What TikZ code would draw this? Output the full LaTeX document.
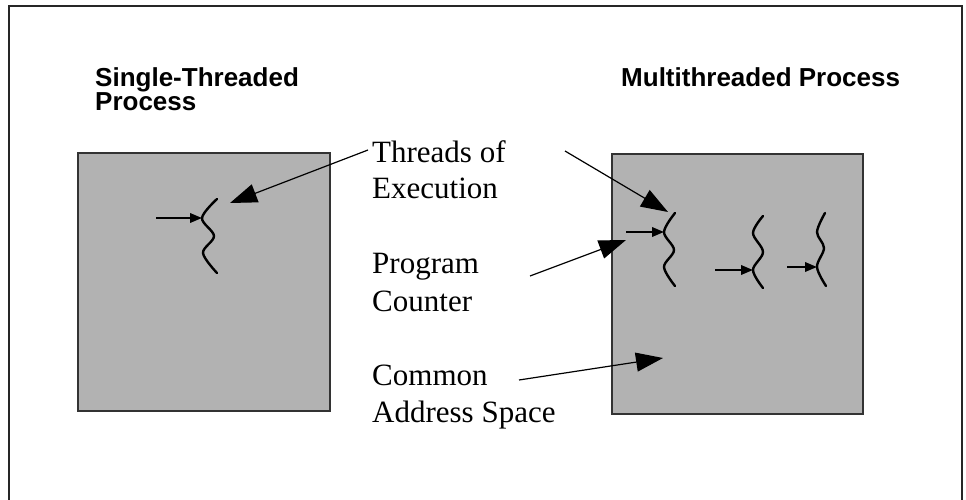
\documentclass[tikz,border=0pt]{standalone}
\usepackage{fontspec}
\setmainfont{Liberation Serif}
\setsansfont{Liberation Sans}
\usetikzlibrary{arrows.meta}
\begin{document}
\begin{tikzpicture}[x=1pt,y=-1pt,
  frame/.style={draw=black!85, line width=1.5pt},
  box/.style={draw=black!80, line width=1.5pt, fill=black!30, rectangle, inner sep=0pt, anchor=north west},
  lbl/.style={font=\fontsize{31}{37}\selectfont, anchor=base west, inner sep=0pt},
  ttl/.style={font=\sffamily\bfseries\fontsize{26}{24}\selectfont, anchor=base west, inner sep=0pt},
  pointer/.style={line width=1.2pt, -{Triangle[length=27pt,width=19pt]}},
  pcarrow/.style={line width=2pt, -{Triangle[length=12pt,width=9.5pt]}},
  thread/.style={line width=2.4pt, line cap=round, line join=round}]
\useasboundingbox (0,0) rectangle (966,500);
% outer frame (open at the bottom)
\draw[frame] (9,500) -- (9,6) -- (962,6) -- (962,500);
% titles
\node[ttl] (t1a) at (95,87) {Single-Threaded};
\node[ttl] (t1b) at (95,111) {Process};
\node[ttl] (t2) at (621,87) {Multithreaded Process};
% process boxes
\node[box, minimum width=252pt, minimum height=258pt] (sbox) at (77,152) {};
\node[box, minimum width=251pt, minimum height=260pt] (mbox) at (611,153) {};
% labels
\node[lbl] (thr1) at (372,162) {Threads of};
\node[lbl] (thr2) at (372,198) {Execution};
\node[lbl] (pc1) at (372,273) {Program};
\node[lbl] (pc2) at (372,311) {Counter};
\node[lbl] (cm1) at (372,385) {Common};
\node[lbl] (cm2) at (372,422) {Address Space};
% threads
\draw[thread] plot[smooth, tension=0.55] coordinates {(217,199) (202,218) (214,236) (203,253) (217,273)};
\draw[thread] plot[smooth, tension=0.55] coordinates {(675,213) (664,232) (674,250) (664,267) (675,286)};
\draw[thread] plot[smooth, tension=0.55] coordinates {(763,216) (753,233) (763,252) (753,270) (763,288)};
\draw[thread] plot[smooth, tension=0.55] coordinates {(825,213) (817,232) (824,248) (817,267) (826,286)};
% thread vertices and tails
\coordinate (vL) at (202,218);
\coordinate (v1) at (664,232);
\coordinate (v2) at (753,270);
\coordinate (v3) at (817,267);
\coordinate (aL) at (156,218);
\coordinate (a1) at (626,232);
\coordinate (a2) at (715,270);
\coordinate (a3) at (787,267);
\draw[pcarrow] (aL) -- (vL);
\draw[pcarrow] (a1) -- (v1);
\draw[pcarrow] (a2) -- (v2);
\draw[pcarrow] (a3) -- (v3);
% label pointers
\coordinate (thrS1) at (368,150);
\coordinate (thrE1) at (230,203);
\coordinate (thrS2) at (565,151);
\coordinate (thrE2) at (668,212);
\coordinate (pcS) at (530,276);
\coordinate (pcE) at (626,240);
\coordinate (cmS) at (519,380);
\coordinate (cmE) at (663,358);
\draw[pointer] (thrS1) -- (thrE1);
\draw[pointer] (thrS2) -- (thrE2);
\draw[pointer] (pcS) -- (pcE);
\draw[pointer] (cmS) -- (cmE);
\end{tikzpicture}
\end{document}
